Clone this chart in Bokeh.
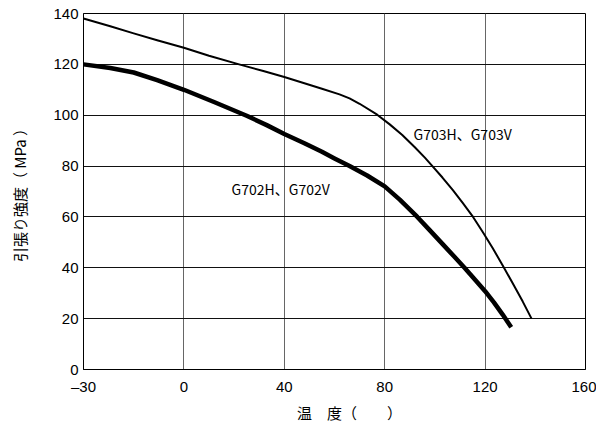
from bokeh.plotting import figure
from bokeh.models import FixedTicker, Range1d, Label
from bokeh.embed import file_html
from bokeh.resources import INLINE

# Data (temperature in degC, tensile strength in MPa)
temp_g703 = [-30, -22, -15, -8, 0, 10, 22, 32, 40, 48, 55, 62, 66, 70, 77, 82, 87, 92, 96, 99, 103, 107, 111, 115.2, 119, 123, 127.3, 131, 135, 138.5]
mpa_g703 = [138, 135, 132.2, 129.5, 126.5, 123.4, 120, 117.3, 115, 112.6, 110.4, 108.2, 106.6, 104.5, 100.2, 96.4, 92.2, 87.4, 83.3, 80, 75.5, 70.7, 65.6, 60, 54.2, 47.8, 40.4, 33.9, 26.7, 20]

temp_g702 = [-30, -22, -15, -8, 0, 12, 25, 33, 40, 48, 55, 60, 66, 73, 80, 86, 93, 98, 103, 107.5, 111.8, 116, 120, 123.5, 127, 130.4]
mpa_g702 = [120, 118.6, 116.8, 113.8, 110, 105.2, 99.8, 96.1, 92.6, 89, 85.6, 83, 80, 76.3, 72, 66.8, 60, 54.7, 49.4, 44.6, 40, 35.3, 30.8, 26.4, 21.6, 16.6]

x_ticks = [-30, 0, 40, 80, 120, 160]
y_ticks = [0, 20, 40, 60, 80, 100, 120, 140]
label_g703 = "G703H、G703V"
label_g702 = "G702H、G702V"


def axis_pos(t):
    # the -30..0 segment is drawn with the same width as a 40-degree step
    return t * 40.0 / 30.0 if t < 0 else t


xs703 = [axis_pos(t) for t in temp_g703]
xs702 = [axis_pos(t) for t in temp_g702]
tick_pos = [axis_pos(t) for t in x_ticks]

p = figure(width=596, height=432, output_backend="svg", toolbar_location=None,
           x_range=Range1d(axis_pos(-30), 160), y_range=Range1d(0, 140),
           min_border_left=83, min_border_right=11, min_border_top=13, min_border_bottom=63)

p.outline_line_color = "black"
p.outline_line_width = 1

p.line(xs703, mpa_g703, line_color="black", line_width=2, line_join="round")
p.line(xs702, mpa_g702, line_color="black", line_width=4.5, line_join="round")

FONT = "Liberation Sans"
CJK = "Noto Sans CJK JP"

xa = p.xaxis[0]
xa.ticker = FixedTicker(ticks=tick_pos)
xa.major_label_overrides = {pos: ("–30" if t == -30 else str(t)) for pos, t in zip(tick_pos, x_ticks)}
ya = p.yaxis[0]
ya.ticker = FixedTicker(ticks=y_ticks)

for ax in (xa, ya):
    ax.major_tick_out = 0
    ax.major_tick_in = 0
    ax.minor_tick_out = 0
    ax.minor_tick_in = 0
    ax.axis_line_color = "black"
    ax.major_label_text_font = FONT
    ax.major_label_text_font_size = "15px"
    ax.major_label_text_color = "black"
    ax.axis_label_text_font = CJK
    ax.axis_label_text_font_size = "15px"
    ax.axis_label_text_font_style = "normal"
    ax.axis_label_text_color = "black"

xa.major_label_standoff = 8
xa.axis_label = "　　温　度（　　）"
xa.axis_label_standoff = 4
ya.major_label_standoff = 5
ya.axis_label = "引張り強度（ MPa ）"
ya.axis_label_standoff = 20

p.xgrid.ticker = FixedTicker(ticks=tick_pos)
p.ygrid.ticker = FixedTicker(ticks=y_ticks)
p.xgrid.grid_line_color = "#666666"
p.xgrid.grid_line_width = 1
p.ygrid.grid_line_color = "#111111"
p.ygrid.grid_line_width = 1

p.add_layout(Label(x=axis_pos(91.5), y=92.5, text=label_g703, text_font=CJK,
                   text_font_size="14px", text_color="black", text_baseline="middle"))
p.add_layout(Label(x=axis_pos(19), y=71, text=label_g702, text_font=CJK,
                   text_font_size="14px", text_color="black", text_baseline="middle"))

open("out.html", "w").write(file_html(p, INLINE))
